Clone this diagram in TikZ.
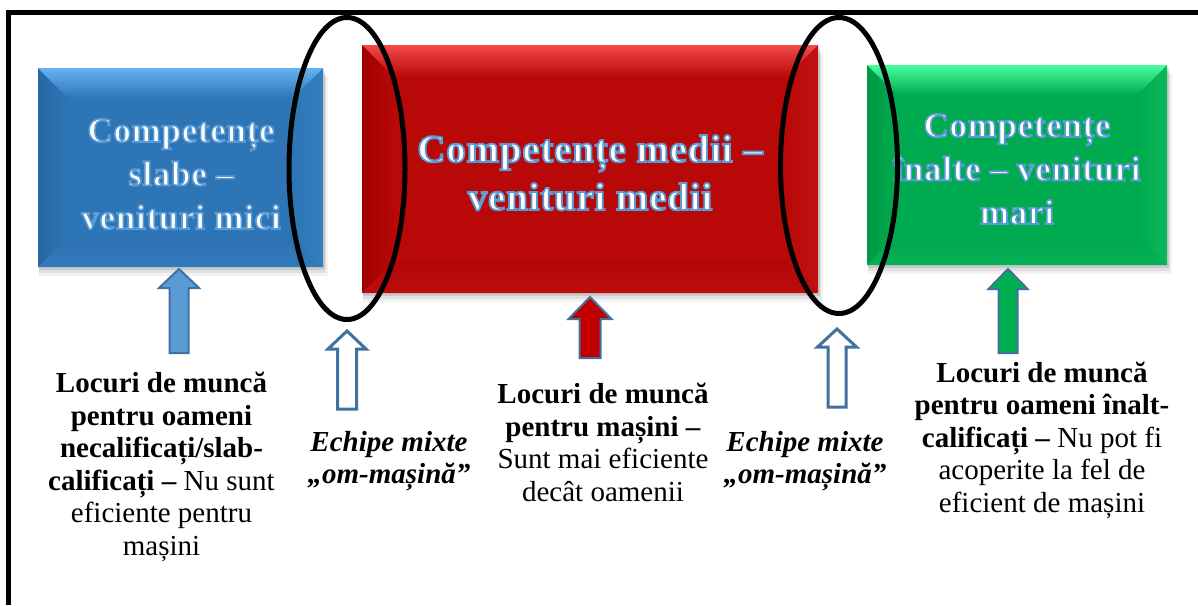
\documentclass[tikz,border=0pt]{standalone}
\usepackage{fontspec}
\setmainfont{Liberation Serif}
\newfontface\glowfont{Liberation Serif Bold}[RawFeature={embolden=4.5}, LetterSpace=2]
\definecolor{bluebase}{HTML}{2E75B6}
\definecolor{bluelight}{HTML}{66B2F2}
\definecolor{bluedark}{HTML}{2767A2}
\definecolor{redbase}{HTML}{B80808}
\definecolor{redlight}{HTML}{F44A4A}
\definecolor{reddark}{HTML}{9E0000}
\definecolor{greenbase}{HTML}{00AB4F}
\definecolor{greenlight}{HTML}{48FFA0}
\definecolor{greendark}{HTML}{009844}
\definecolor{arrowline}{HTML}{41719C}
\definecolor{arrowblue}{HTML}{5B9BD5}
\definecolor{arrowred}{HTML}{C00000}
\definecolor{arrowgreen}{HTML}{00B050}
\definecolor{glowblue}{HTML}{5B9BD5}
\newcommand\outlined[1]{{\color{white}\special{pdf:literal direct 0.357 0.608 0.835 RG}#1}}
\tikzset{
  boxtext/.style={align=center, inner sep=0pt, anchor=base, text=white},
  bigtext/.style={font=\glowfont\fontsize{35}{43.5}\selectfont},
  hugetext/.style={font=\glowfont\fontsize{39}{48}\selectfont},
  caption/.style={align=center, inner sep=0pt, anchor=base, font=\fontsize{29}{32.5}\selectfont},
  solidarrow/.style={draw=arrowline, line width=2pt, line join=miter},
  hollowarrow/.style={draw=arrowline, fill=white, line width=3pt, line join=miter},
  ring/.style={draw=black, line width=5pt}
}
% #1 name, #2 x1, #3 y1, #4 x2, #5 y2, #6 base, #7 light, #8 dark, #9 bevel
\newcommand\bevelbox[9]{%
  \foreach \s/\o in {9/0.05,6/0.07,3/0.10}{
    \fill[black,opacity=\o] (#2+1,#3+\s) rectangle (#4+\s*0.5,#5+\s);
  }
  \fill[#6] (#2,#3) rectangle (#4,#5);
  \shade[left color=#8, right color=#6] (#2,#3) -- (#2+#9,#3+#9) -- (#2+#9,#5-#9) -- (#2,#5) -- cycle;
  \shade[left color=#6, right color=#6!85!#7] (#4,#3) -- (#4-#9,#3+#9) -- (#4-#9,#5-#9) -- (#4,#5) -- cycle;
  \shade[top color=#6!80!#8, bottom color=#6!92!#7] (#2,#5) -- (#2+#9,#5-#9) -- (#4-#9,#5-#9) -- (#4,#5) -- cycle;
  \shade[top color=#7, bottom color=#6] (#2,#3) -- (#4,#3) -- (#4-#9,#3+#9) -- (#2+#9,#3+#9) -- cycle;
  \coordinate (#1) at ({(#2+#4)/2},{(#3+#5)/2});
}
% #1 name, #2 cx, #3 tip y, #4 head base y, #5 half head, #6 half shaft, #7 bottom y, #8 style
\newcommand\uparrowblock[8]{%
  \draw[#8] (#2,#3) -- (#2+#5,#4) -- (#2+#6,#4) -- (#2+#6,#7) -- (#2-#6,#7) -- (#2-#6,#4) -- (#2-#5,#4) -- cycle;
  \coordinate (#1) at (#2,#3);
}
\begin{document}
\begin{tikzpicture}[x=1pt,y=-1pt]
\useasboundingbox (0,0) rectangle (1198,605);
\fill[white] (0,0) rectangle (1198,605);
% frame
\coordinate (fbl) at (8.5,605);
\coordinate (ftl) at (8.5,12);
\coordinate (ftr) at (1198,12);
\draw[line width=5pt] (fbl) -- (ftl) -- (ftr);

% boxes
\bevelbox{bluebox}{38}{68}{323}{267}{bluebase}{bluelight}{bluedark}{30}
\bevelbox{redbox}{362}{45}{818}{293}{redbase}{redlight}{reddark}{32}
\bevelbox{greenbox}{867}{65}{1167}{265}{greenbase}{greenlight}{greendark}{30}

% box labels (anchored at the baseline of the last line)
\node[boxtext, bigtext] (bluetext) at (181,229) {\outlined{Competențe}\\\outlined{slabe –}\\\outlined{venituri mici}};
\node[boxtext, hugetext] (redtext) at (590,210) {\outlined{Competențe medii –}\\\outlined{venituri medii}};
\node[boxtext, bigtext] (greentext) at (1017,224) {\outlined{Competențe}\\\outlined{înalte – venituri}\\\outlined{mari}};

% arrows
\uparrowblock{bluearrow}{179}{269}{288}{20}{9.5}{353}{solidarrow, fill=arrowblue}
\uparrowblock{lefthollow}{347}{331}{349}{19}{9.5}{409}{hollowarrow}
\uparrowblock{redarrow}{590}{297}{319}{21.5}{10.5}{358}{solidarrow, fill=arrowred}
\uparrowblock{righthollow}{837}{329}{347}{19.5}{9}{407}{hollowarrow}
\uparrowblock{greenarrow}{1008}{269}{289}{19.5}{9.5}{353}{solidarrow, fill=arrowgreen}

% ellipses
\coordinate (lring) at (347,168.5);
\coordinate (rring) at (839,165.5);
\draw[ring] (lring) ellipse [x radius=58, y radius=151];
\draw[ring] (rring) ellipse [x radius=58.5, y radius=148];

% captions (anchored at the baseline of the last line)
\node[caption] (lowcap) at (161.5,555) {\textbf{Locuri de muncă}\\\textbf{pentru oameni}\\\textbf{necalificați/slab-}\\\textbf{calificați –} Nu sunt\\eficiente pentru\\mașini};
\node[caption] (midcap) at (603,501) {\textbf{Locuri de muncă}\\\textbf{pentru mașini –}\\Sunt mai eficiente\\decât oamenii};
\node[caption] (highcap) at (1042,512) {\textbf{Locuri de muncă}\\\textbf{pentru oameni înalt-}\\\textbf{calificați –} Nu pot fi\\acoperite la fel de\\eficient de mașini};
\node[caption, font=\bfseries\itshape\fontsize{29}{32}\selectfont] (mixleft) at (389,483) {Echipe mixte\\„om-mașină”};
\node[caption, font=\bfseries\itshape\fontsize{29}{32}\selectfont] (mixright) at (805,483) {Echipe mixte\\„om-mașină”};
\end{tikzpicture}
\end{document}
